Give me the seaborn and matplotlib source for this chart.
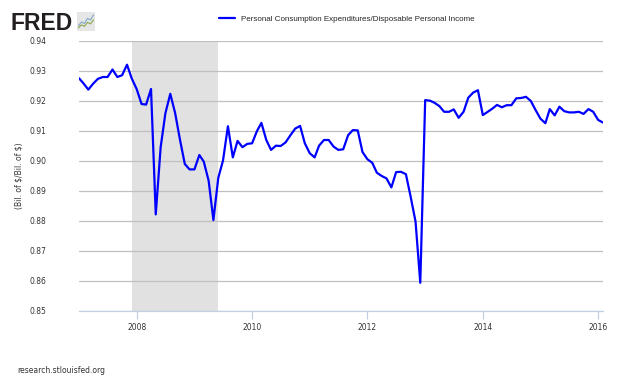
import matplotlib
matplotlib.use("Agg")
import matplotlib.pyplot as plt
import matplotlib.dates as mdates
import seaborn as sns
import pandas as pd

# monthly ratio, Jan 2007 .. Feb 2016
dates = pd.date_range("2007-01-01", periods=110, freq="MS")
ratio = [
    # 2007
    0.9276, 0.9257, 0.9238, 0.9258, 0.9274, 0.9280, 0.9280, 0.9305, 0.9280, 0.9286, 0.9321, 0.9275,
    # 2008
    0.9240, 0.9190, 0.9188, 0.9240, 0.8822, 0.9046, 0.9159, 0.9224, 0.9159, 0.9072, 0.8990, 0.8972,
    # 2009
    0.8972, 0.9020, 0.8998, 0.8934, 0.8803, 0.8944, 0.9002, 0.9116, 0.9012, 0.9067, 0.9046, 0.9057,
    # 2010
    0.9059, 0.9100, 0.9127, 0.9070, 0.9037, 0.9051, 0.9050, 0.9062, 0.9086, 0.9108, 0.9117, 0.9059,
    # 2011
    0.9026, 0.9012, 0.9051, 0.9070, 0.9070, 0.9048, 0.9037, 0.9039, 0.9086, 0.9103, 0.9102, 0.9030,
    # 2012
    0.9006, 0.8994, 0.8961, 0.8950, 0.8942, 0.8912, 0.8963, 0.8964, 0.8956, 0.8881, 0.8798, 0.8594,
    # 2013
    0.9203, 0.9201, 0.9194, 0.9183, 0.9164, 0.9164, 0.9172, 0.9144, 0.9164, 0.9211, 0.9228, 0.9236,
    # 2014
    0.9153, 0.9164, 0.9174, 0.9187, 0.9179, 0.9186, 0.9186, 0.9209, 0.9210, 0.9214, 0.9200, 0.9170,
    # 2015
    0.9141, 0.9126, 0.9173, 0.9152, 0.9181, 0.9166, 0.9162, 0.9162, 0.9164, 0.9157, 0.9173, 0.9164,
    # 2016
    0.9137, 0.9128,
]
recession_start = "2007-12-01"
recession_end = "2009-06-01"
y_ticks = [0.85, 0.86, 0.87, 0.88, 0.89, 0.90, 0.91, 0.92, 0.93, 0.94]
x_tick_years = [2008, 2010, 2012, 2014, 2016]
series_name = "Personal Consumption Expenditures/Disposable Personal Income"

# little logo chart
logo_blue = [1, 2, 1.6, 3, 2.6, 4]
logo_green = [0.4, 1.2, 0.8, 1.9, 1.5, 2.6]

df = pd.DataFrame({"date": dates, "ratio": ratio})

sns.set_style("white")
plt.rcParams["font.family"] = ["DejaVu Sans"]

fig = plt.figure(figsize=(6.3, 3.78), dpi=100)
ax = fig.add_axes([79 / 630, 1 - 311 / 378, 524 / 630, 270 / 378])

ax.axvspan(pd.Timestamp(recession_start), pd.Timestamp(recession_end),
           color="#e1e1e1", lw=0, zorder=0)
sns.lineplot(data=df, x="date", y="ratio", ax=ax, color="#0000ff",
             lw=1.6, label=series_name, zorder=3)

ax.set_xlim(pd.Timestamp("2007-01-01"), pd.Timestamp("2016-02-01"))
ax.set_ylim(0.85, 0.94)
ax.set_yticks(y_ticks)
ax.set_yticklabels([f"{v:.2f}" for v in y_ticks])
ax.set_xticks([pd.Timestamp(f"{y}-01-01") for y in x_tick_years])
ax.xaxis.set_major_formatter(mdates.DateFormatter("%Y"))
ax.grid(axis="y", color="#c0c0c0", lw=0.9)
ax.grid(axis="x", visible=False)
ax.set_axisbelow(True)

for s in ["top", "right", "left"]:
    ax.spines[s].set_visible(False)
ax.spines["bottom"].set_color("#c0d0e0")
ax.spines["bottom"].set_linewidth(0.9)
ax.tick_params(axis="x", bottom=True, length=6, width=0.9, color="#c0d0e0",
               labelsize=5.5, labelcolor="#333333", pad=3)
ax.tick_params(axis="y", left=False, labelsize=5.5, labelcolor="#333333", pad=20)
ax.set_xlabel("")
ax.set_ylabel(r"(Bil. of \$/Bil. of \$)", fontsize=5.5, color="#333333", labelpad=4)

leg = ax.legend(loc="lower left", bbox_to_anchor=(216 / 630, 1 - 26 / 378),
                bbox_transform=fig.transFigure, frameon=False, fontsize=5.8,
                handlelength=2.0, handletextpad=0.7, borderaxespad=0)
for t in leg.get_texts():
    t.set_family(["Liberation Sans", "DejaVu Sans"])

# FRED logo
fig.text(10 / 630, 1 - 30 / 378, "FRED", fontsize=16.5, fontweight="bold",
         color="#231f20", family=["Liberation Sans", "DejaVu Sans"], va="baseline")
lax = fig.add_axes([77 / 630, 1 - 31 / 378, 18 / 630, 19 / 378])
lax.set_facecolor("#e6e6e6")
sns.lineplot(x=range(len(logo_blue)), y=logo_blue, ax=lax, color="#7fa7c7", lw=0.8)
sns.lineplot(x=range(len(logo_green)), y=logo_green, ax=lax, color="#8aa64a", lw=0.8)
lax.set_xlim(-0.5, len(logo_blue) - 0.5)
lax.set_ylim(-0.5, 4.8)
lax.set_xticks([])
lax.set_yticks([])
for s in lax.spines.values():
    s.set_visible(False)

fig.text(17 / 630, 1 - 373 / 378, "research.stlouisfed.org", fontsize=5.5,
         color="#333333", va="baseline")

fig.savefig("out.png", dpi=100)
